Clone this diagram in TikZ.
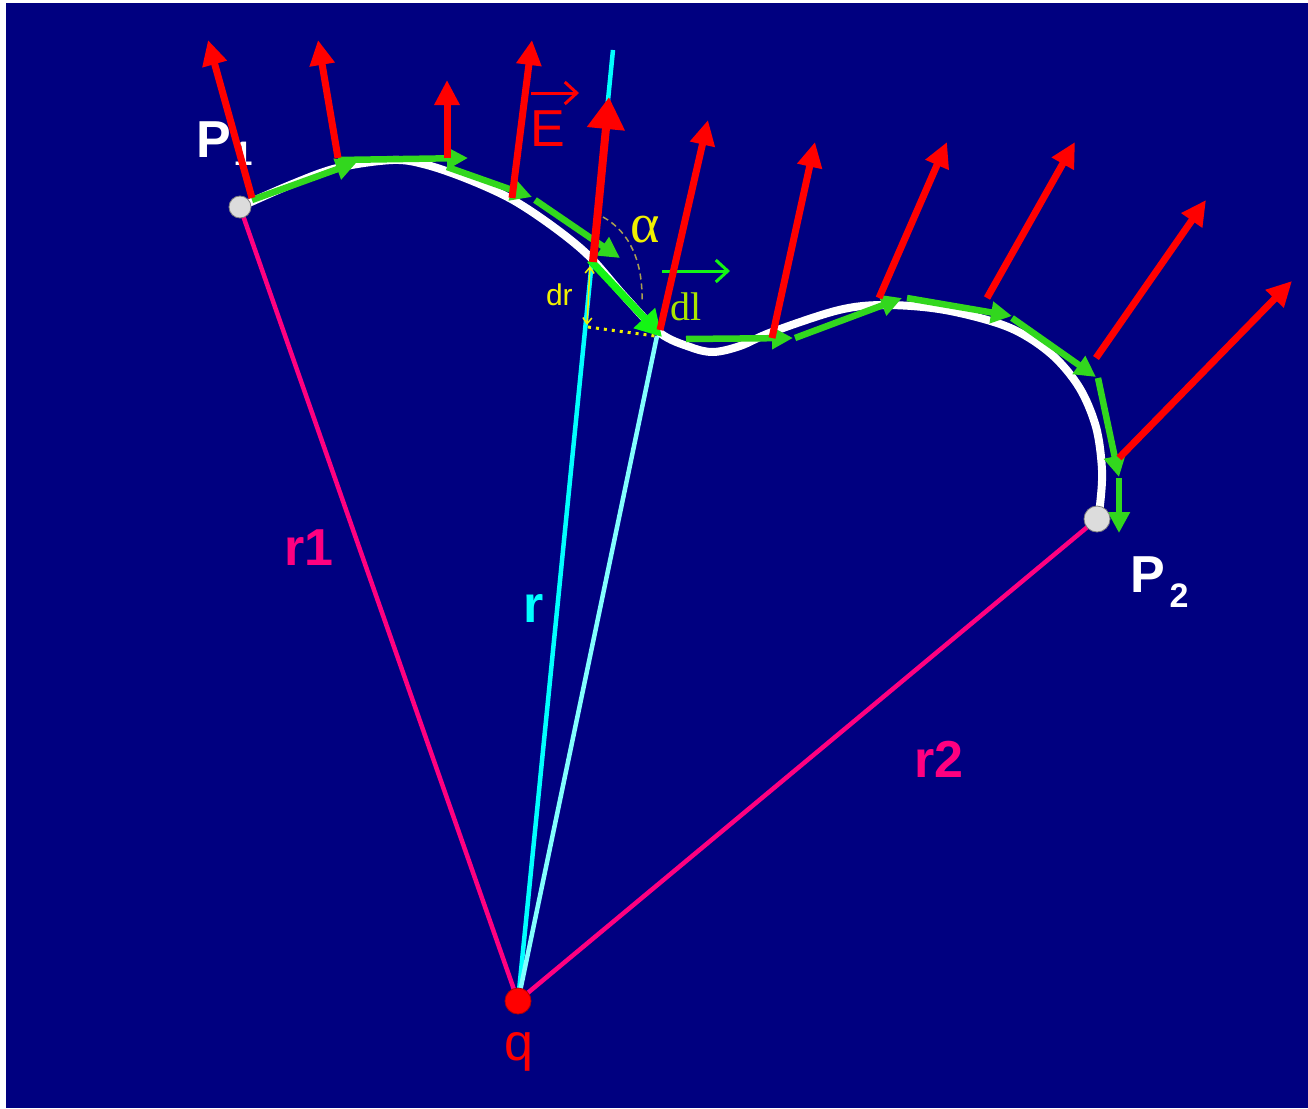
\documentclass[tikz,border=0pt]{standalone}
\usepackage{fontspec}
\setmainfont{Liberation Serif}
\setsansfont{Liberation Sans}
\usetikzlibrary{arrows.meta}
\definecolor{navy}{RGB}{0,0,128}
\definecolor{hotpink}{RGB}{255,0,128}
\definecolor{lgreen}{RGB}{50,215,30}
\definecolor{bgreen}{RGB}{20,245,20}
\definecolor{pcyan}{RGB}{0,255,255}
\definecolor{lcyan}{RGB}{130,255,255}
\definecolor{dlcol}{RGB}{170,230,0}
\definecolor{dotgray}{RGB}{220,220,220}
\definecolor{arccol}{RGB}{170,160,80}
\definecolor{ylw}{RGB}{240,240,0}
\definecolor{pred}{RGB}{255,0,0}
\begin{document}
\begin{tikzpicture}[x=1pt,y=-1pt,
  efield/.style={draw=pred, line width=7pt, -{Triangle[length=25pt,width=24pt]}},
  bigefield/.style={draw=pred, line width=8pt, -{Triangle[length=32pt,width=36pt]}},
  dlseg/.style={draw=lgreen, line width=6.5pt, -{Triangle[length=21pt,width=21pt]}},
  bigdl/.style={draw=bgreen, line width=7.5pt, -{Triangle[length=26pt,width=28pt]}},
  radline/.style={draw=hotpink, line width=4.5pt},
  lbl/.style={inner sep=0pt, outer sep=0pt, anchor=base west},
  sanslbl/.style={lbl, font=\sffamily\bfseries\fontsize{52}{52}\selectfont},
  vecbar/.style={line width=3pt, -{Straight Barb[length=12pt,width=22pt]}},
  ptdot/.style={circle, draw=gray, line width=0.8pt, fill=dotgray, inner sep=0pt}
]
\useasboundingbox (0,0) rectangle (1308,1108);
\fill[white] (0,0) rectangle (1308,1108);
\fill[navy] (6,3) rectangle (1308,1108);

% key points
\coordinate (P1) at (240,207);
\coordinate (P2) at (1097,519);
\coordinate (Q) at (518,1001);
\coordinate (rtop) at (613,50);
\coordinate (dltip) at (657,336);

% radius lines
\draw[radline] (P1) -- (Q);
\draw[radline] (Q) -- (P2);
\draw[pcyan, line width=4.5pt] (Q) -- (rtop);
\draw[lcyan, line width=4.5pt] (Q) -- (dltip);

% path
\draw[white, line width=8pt, line cap=round] plot[smooth, tension=0.55] coordinates {
 (240,207) (290,185) (337,168) (393,160) (427,165) (470,180) (513,200) (555,228)
 (590,257) (625,297) (660,333) (690,347) (713,352) (740,346) (772,332) (839,310)
 (886,305) (945,310) (1008,327) (1050,353) (1079,387) (1096,427) (1102,470)
 (1100,505) (1097,519)};

% dr construction
\draw[ylw, line width=3pt, dash pattern=on 3pt off 5pt] (588,327) -- (655,336);
\draw[ylw, line width=1.5pt, {Straight Barb[length=6pt,width=9pt]}-{Straight Barb[length=6pt,width=9pt]}] (590,266) -- (587,325);
\draw[arccol, line width=1.5pt, dash pattern=on 6pt off 4pt] (603,217) .. controls (630,232) and (643,262) .. (642,302);

% green path elements
\draw[dlseg] (252,200) -- (357,162);
\draw[dlseg] (338,160) -- (468,158);
\draw[dlseg] (447,167) -- (532,197);
\draw[dlseg] (535,200) -- (620,258);
\draw[dlseg] (686,339) -- (793,338);
\draw[dlseg] (795,338) -- (902,298);
\draw[dlseg] (907,298) -- (1012,316);
\draw[dlseg] (1012,318) -- (1096,377);
\draw[dlseg] (1098,378) -- (1119,477);
\draw[dlseg] (1119,478) -- (1119,533);
\draw[bigdl] (590,260) -- (662,337);

% dots
\node[ptdot, minimum size=22pt] (p1dot) at (P1) {};
\node[ptdot, minimum size=26pt] (p2dot) at (P2) {};
\node[circle, draw={rgb,255:red,180;green,0;blue,0}, line width=0.8pt, fill=pred, inner sep=0pt, minimum size=26pt] (qdot) at (Q) {};

% labels
\node[sanslbl, white] (lp1) at (196,157) {P\kern3pt\raisebox{-8pt}{\fontsize{34}{34}\selectfont 1}};
\node[sanslbl, white] (lp2) at (1130,592) {P\kern5pt\raisebox{-15pt}{\fontsize{34}{34}\selectfont 2}};
\node[sanslbl, hotpink] (lr1) at (284,565) {r1};
\node[sanslbl, pcyan] (lr) at (523,622) {r};
\node[sanslbl, hotpink] (lr2) at (914,777) {r2};
\node[lbl, pred, font=\sffamily\fontsize{52}{52}\selectfont] (lq) at (504,1060) {q};
\node[lbl, pred, font=\sffamily\fontsize{52}{52}\selectfont] (lE) at (530,146) {E};
\draw[pred, vecbar] (531,93) -- (579,93);
\node[lbl, ylw, font=\fontsize{56}{56}\selectfont] (lal) at (630,242) {α};
\node[lbl, ylw, font=\sffamily\fontsize{30}{30}\selectfont] (ldr) at (546,305) {dr};
\node[lbl, dlcol, font=\fontsize{40}{40}\selectfont] (ldl) at (670,320) {dl};
\draw[bgreen, vecbar] (662,271) -- (730,271);

% E field vectors
\draw[efield] (252,198) -- (208,40);
\draw[efield] (338,158) -- (318,40);
\draw[efield] (447,158) -- (447,80);
\draw[efield] (512,198) -- (532,40);
\draw[efield] (660,330) -- (708,120);
\draw[efield] (772,338) -- (815,142);
\draw[efield] (879,298) -- (947,142);
\draw[efield] (987,298) -- (1075,142);
\draw[efield] (1096,358) -- (1206,200);
\draw[efield] (1119,458) -- (1292,281);
\draw[bigefield] (593,262) -- (609,97);
\end{tikzpicture}
\end{document}
